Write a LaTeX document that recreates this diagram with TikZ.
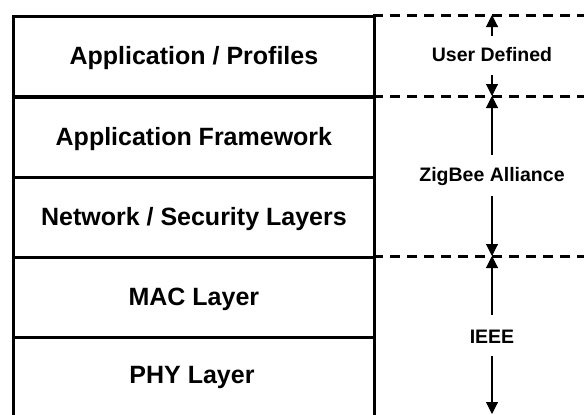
\documentclass[tikz,border=0pt]{standalone}
\usepackage{fontspec}
\setmainfont{Liberation Sans}
\usetikzlibrary{arrows.meta}
\begin{document}
\begin{tikzpicture}[x=1pt,y=-1pt,
  layer/.style={draw,line width=2.8pt,minimum width=361pt,minimum height=80pt,inner sep=0pt,anchor=north west,text depth=2pt,font=\bfseries\fontsize{25}{29}\selectfont},
  side/.style={font=\bfseries\fontsize{19.5}{23}\selectfont,inner sep=1pt},
  dashline/.style={line width=3pt,dash pattern=on 10pt off 7pt},
  arr/.style={line width=1.1pt,-{Triangle[width=12pt,length=12pt]}}]
\useasboundingbox (0,0) rectangle (584,415);
\clip (0,0) rectangle (584,415);
\node[layer] (app) at (12,15) {Application / Profiles};
\node[layer] (fw) at (12,96) {Application Framework};
\node[layer] (nwk) at (12,176) {Network / Security Layers};
\node[layer] (mac) at (12,256) {MAC Layer};
\node[layer,minimum height=100pt] (phy) at (12,336) {};
\node[font=\bfseries\fontsize{25}{29}\selectfont,text depth=2pt] (phyt) at (192,376) {PHY Layer};
\coordinate (d1a) at (373,15); \coordinate (d1b) at (590,15);
\coordinate (d2a) at (373,96); \coordinate (d2b) at (590,96);
\coordinate (d3a) at (373,256); \coordinate (d3b) at (590,256);
\draw[dashline] (d1a) -- (d1b);
\draw[dashline] (d2a) -- (d2b);
\draw[dashline] (d3a) -- (d3b);
\node[side] (ud) at (492,55) {User Defined};
\node[side] (zb) at (492,176.5) {ZigBee Alliance};
\node[side] (ieee) at (492,336.5) {IEEE};
\coordinate (t1) at (492,15); \coordinate (t2) at (492,96);
\coordinate (t3) at (492,256); \coordinate (t4) at (492,414);
\coordinate (s1) at (492,36); \coordinate (s2) at (492,75);
\coordinate (s3) at (492,155); \coordinate (s4) at (492,196);
\coordinate (s5) at (492,315); \coordinate (s6) at (492,356);
\draw[arr] (s1) -- (t1);
\draw[arr] (s2) -- (t2);
\draw[arr] (s3) -- (t2);
\draw[arr] (s4) -- (t3);
\draw[arr] (s5) -- (t3);
\draw[arr] (s6) -- (t4);
\end{tikzpicture}
\end{document}
